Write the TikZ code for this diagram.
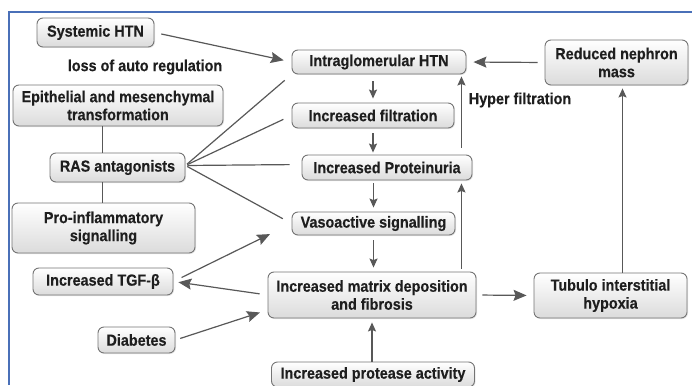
\documentclass[tikz,border=0pt]{standalone}
\usepackage{fontspec}
\setmainfont{Liberation Sans}[FakeStretch=0.9, BoldFeatures={FakeBold=0.3}]
\usepackage{tikz}
\usetikzlibrary{arrows.meta}
\usetikzlibrary{shadows}
\definecolor{framecol}{HTML}{4A70B8}
\definecolor{linecol}{HTML}{585858}
\definecolor{boxline}{HTML}{747474}
\definecolor{txtcol}{HTML}{1E1E1E}

\begin{document}
\begin{tikzpicture}[x=1pt,y=-1pt]

\tikzstyle{every node}=[font=\bfseries\fontsize{16}{18}\selectfont, text=txtcol]
\tikzstyle{box}=[draw=boxline, line width=0.9pt, rounded corners=6pt, top color=white, bottom color=gray!28, align=center, inner sep=0pt, drop shadow={opacity=0.2, shadow xshift=1pt, shadow yshift=-1pt}]
\tikzstyle{lnk}=[draw=linecol, line width=1.2pt]
\tikzstyle{arr}=[lnk, -{Stealth[length=13pt,width=11pt,inset=2pt]}]
\tikzstyle{arrs}=[lnk, -{Stealth[length=9pt,width=8pt,inset=1.5pt]}]

\useasboundingbox (0,0) rectangle (692,385);
\draw[framecol, line width=1.3pt] (9,385) -- (9,12) -- (692,12);

% left column
\node [box, minimum width=117, minimum height=29] (sys) at (95.5,32.5) {Systemic HTN};
\node (loss) at (145,67) {loss of auto regulation};
\node [box, minimum width=210, minimum height=41] (emt) at (118,105.5) {Epithelial and mesenchymal\\transformation};
\node [box, minimum width=135, minimum height=29] (ras) at (117.5,167.5) {RAS antagonists};
\node [box, minimum width=183, minimum height=50] (proinf) at (103.5,228) {Pro-inflammatory\\signalling};
\node [box, minimum width=140, minimum height=27] (tgf) at (103,281.5) {Increased TGF-β};
\node [box, minimum width=77, minimum height=26] (diab) at (136.5,340) {Diabetes};

% middle column
\node [box, minimum width=174, minimum height=24] (intra) at (379,62) {Intraglomerular HTN};
\node [box, minimum width=162, minimum height=25] (filt) at (373,115.5) {Increased filtration};
\node [box, minimum width=170, minimum height=25] (prot) at (387,167.5) {Increased Proteinuria};
\node [box, minimum width=163, minimum height=23] (vaso) at (373.5,223.5) {Vasoactive signalling};
\node [box, minimum width=208, minimum height=46] (matrix) at (372,295) {Increased matrix deposition\\and fibrosis};
\node [box, minimum width=203, minimum height=25] (protease) at (373,374.5) {Increased protease activity};

% right column
\node [box, minimum width=143, minimum height=45] (reduced) at (616.5,62.5) {Reduced nephron\\mass};
\node (hyper) at (520,100) {Hyper filtration};
\node [box, minimum width=153, minimum height=45] (tubulo) at (610.5,295.5) {Tubulo interstitial\\hypoxia};

% into the glomerulus
\draw[arr, shorten <=7pt, shorten >=8pt] (sys.east) -- (intra.west);
\draw[arr, shorten <=7pt, shorten >=7pt] (reduced.west) -- (intra.east);

% RAS antagonists
\draw[lnk] ([xshift=-15pt]ras.north) -- ([xshift=-15pt]ras.north |- emt.south);
\draw[lnk] ([xshift=-15pt]ras.south) -- ([xshift=-15pt]ras.south |- proinf.north);
\draw[lnk, shorten <=2pt, shorten >=9pt] ([yshift=2pt]ras.east) -- (intra.south west);
\draw[lnk, shorten <=2pt, shorten >=9pt] ([yshift=2pt]ras.east) -- (filt.west);
\draw[lnk, shorten <=2pt, shorten >=12pt] ([yshift=2pt]ras.east) -- ([yshift=3pt]prot.west);
\draw[lnk, shorten <=2pt, shorten >=10pt] ([yshift=2pt]ras.east) -- (vaso.west);

% main chain
\draw[arrs, shorten <=7pt, shorten >=4pt] (intra.south -| filt) -- (filt.north);
\draw[arrs, shorten <=5pt, shorten >=2pt] (filt.south) -- (filt.south |- prot.north);
\draw[arrs, shorten <=3pt, shorten >=4pt] (prot.south -| vaso) -- (vaso.north);
\draw[arrs, shorten <=5pt, shorten >=4pt] (vaso.south) -- (vaso.south |- matrix.north);
\draw[arrs, shorten >=4pt] (protease.north -| matrix) -- (matrix.south);

% feedback
\draw[arrs, shorten <=3pt, shorten >=3pt] ([xshift=-15pt]matrix.north east) -- ([xshift=-15pt]matrix.north east |- prot.south);
\draw[arrs, shorten <=7pt, shorten >=2pt] ([xshift=-11pt]prot.north east) -- ([xshift=-11pt]prot.north east |- intra.south);
\draw[arr, shorten <=6pt, shorten >=7pt] (matrix.east) -- (tubulo.west);
\draw[arrs, shorten >=3pt] ([xshift=12pt]tubulo.north) -- ([xshift=12pt]tubulo.north |- reduced.south);

% TGF and diabetes
\draw[arr, shorten <=9pt, shorten >=24pt] (tgf.east) -- (vaso.west);
\draw[arr, shorten <=8pt, shorten >=5pt] (matrix.west) -- (tgf.east);
\draw[arr, shorten <=5pt, shorten >=8pt] (diab.east) -- ([yshift=-15pt]matrix.west);

\end{tikzpicture}
\end{document}
